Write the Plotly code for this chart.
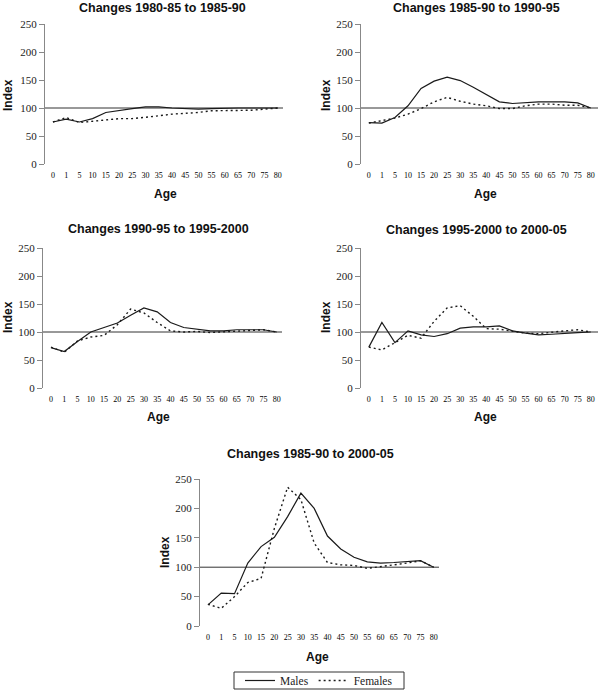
import plotly.graph_objects as go

W, H = 598, 693

ages = ["0", "1", "5", "10", "15", "20", "25", "30", "35", "40",
        "45", "50", "55", "60", "65", "70", "75", "80"]

titles = ["Changes 1980-85 to 1985-90", "Changes 1985-90 to 1990-95",
          "Changes 1990-95 to 1995-2000", "Changes 1995-2000 to 2000-05",
          "Changes 1985-90 to 2000-05"]

males_1 = [75, 80, 75, 81, 92, 96, 99, 102, 102, 100, 99, 98, 99, 100, 100, 100, 100, 100]
females_1 = [75, 83, 74, 76, 79, 81, 81, 83, 86, 89, 90, 92, 95, 95, 95, 96, 98, 100]

males_2 = [74, 73, 83, 104, 135, 148, 155, 149, 137, 124, 111, 108, 110, 111, 111, 111, 109, 100]
females_2 = [73, 77, 82, 89, 99, 111, 119, 112, 107, 104, 99, 99, 104, 107, 107, 105, 105, 100]

males_3 = [72, 65, 83, 100, 108, 116, 130, 143, 136, 117, 108, 105, 102, 102, 104, 104, 104, 100]
females_3 = [73, 64, 84, 91, 94, 113, 141, 134, 117, 102, 100, 101, 99, 100, 101, 102, 104, 100]

males_4 = [73, 117, 81, 102, 95, 92, 97, 107, 109, 109, 111, 102, 98, 95, 96, 98, 99, 100]
females_4 = [73, 68, 81, 94, 89, 119, 143, 147, 128, 106, 105, 102, 98, 97, 100, 102, 104, 100]

males_5 = [36, 56, 55, 107, 135, 151, 186, 226, 200, 153, 131, 117, 109, 107, 108, 109, 111, 100]
females_5 = [37, 30, 50, 74, 81, 166, 236, 215, 141, 108, 104, 103, 98, 101, 103, 107, 111, 100]

males = [males_1, males_2, males_3, males_4, males_5]
females = [females_1, females_2, females_3, females_4, females_5]

y_ticks = [0, 50, 100, 150, 200, 250]

# panel pixel boxes: (x_left, x_right, y_top, y_bottom)
boxes = [(45, 283, 24, 164), (361, 596, 24, 164),
         (43, 282, 248, 388), (361, 596, 248, 388),
         (200, 439, 479, 626)]
line_ext = [1.0, 1.01, 1.0, 1.01, 1.0]
title_pos = [(162, 8), (476, 8), (158, 229), (476, 230), (310, 454)]
age_pos = [(165, 194), (485, 194), (158, 417), (485, 417), (317, 657)]
index_pos = [(8, 95), (326, 95), (8, 317), (326, 317), (165, 552)]
legend_box = (234, 404, 672, 689)

SERIF = "Liberation Serif, Times New Roman, serif"
SANS = "Liberation Sans, Arial, sans-serif"
LINE = "#1a1a1a"

fig = go.Figure()
annotations = []
shapes = []
layout = {}

for i in range(5):
    n = "" if i == 0 else str(i + 1)
    xl, xr, yt, yb = boxes[i]
    layout["xaxis" + n] = dict(
        domain=[xl / W, xr / W], anchor="y" + n,
        type="category", categoryorder="array", categoryarray=ages,
        range=[-0.6, 17.4], showline=False, showgrid=False, zeroline=False,
        ticks="", ticklabelstandoff=5, automargin=False,
        tickfont=dict(family=SERIF, size=8, color="#000"),
        fixedrange=True,
    )
    layout["yaxis" + n] = dict(
        domain=[1 - yb / H, 1 - yt / H], anchor="x" + n,
        range=[0, 250], tickvals=y_ticks, showline=True, linecolor="#888",
        linewidth=1, ticks="outside", ticklen=5, tickcolor="#888",
        showgrid=False, zeroline=False, automargin=False,
        tickfont=dict(family=SERIF, size=11, color="#222"),
        fixedrange=True,
    )
    fig.add_trace(go.Scatter(
        x=ages, y=males[i], mode="lines", name="Males",
        line=dict(color=LINE, width=1.2), showlegend=(i == 0),
        xaxis="x" + n, yaxis="y" + n,
    ))
    fig.add_trace(go.Scatter(
        x=ages, y=females[i], mode="lines", name="Females",
        line=dict(color=LINE, width=1.4, dash="2px,3px"), showlegend=(i == 0),
        xaxis="x" + n, yaxis="y" + n,
    ))
    shapes.append(dict(type="line", xref="x" + n + " domain", yref="y" + n,
                       x0=0, x1=line_ext[i], y0=100, y1=100,
                       line=dict(color="#333", width=1), layer="below"))
    tx, ty = title_pos[i]
    annotations.append(dict(text="<b>" + titles[i] + "</b>", x=tx / W, y=1 - ty / H,
                            xref="paper", yref="paper", showarrow=False,
                            xanchor="center", yanchor="middle",
                            font=dict(family=SANS, size=12.5, color="#111")))
    ax_, ay_ = age_pos[i]
    annotations.append(dict(text="<b>Age</b>", x=ax_ / W, y=1 - ay_ / H,
                            xref="paper", yref="paper", showarrow=False,
                            xanchor="center", yanchor="middle",
                            font=dict(family=SANS, size=12, color="#111")))
    ix, iy = index_pos[i]
    annotations.append(dict(text="<b>Index</b>", x=ix / W, y=1 - iy / H,
                            xref="paper", yref="paper", showarrow=False,
                            xanchor="center", yanchor="middle", textangle=-90,
                            font=dict(family=SANS, size=12, color="#111")))

# legend frame
lx0, lx1, ly0, ly1 = legend_box
shapes.append(dict(type="rect", xref="paper", yref="paper",
                   x0=lx0 / W, x1=lx1 / W, y0=1 - ly1 / H, y1=1 - ly0 / H,
                   line=dict(color="#333", width=1), fillcolor="rgba(0,0,0,0)"))

fig.update_layout(
    width=W, height=H,
    margin=dict(l=0, r=0, t=0, b=0, autoexpand=False),
    paper_bgcolor="white", plot_bgcolor="white",
    annotations=annotations, shapes=shapes,
    legend=dict(orientation="h", x=319 / W, y=1 - 680.5 / H,
                xanchor="center", yanchor="middle",
                borderwidth=0, bgcolor="rgba(0,0,0,0)",
                font=dict(family=SERIF, size=11.5, color="#222"),
                itemwidth=30, tracegroupgap=0),
    **layout,
)

fig.write_html(
    "out.html",
    config={"displayModeBar": False},
    post_script="document.body.style.margin='0';document.body.style.overflow='hidden';",
)
